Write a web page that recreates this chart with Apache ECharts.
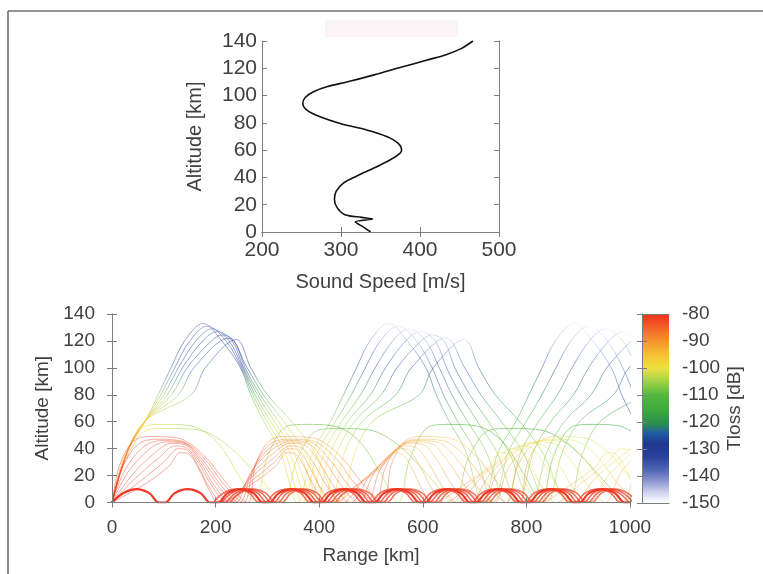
<!DOCTYPE html>
<html><head><meta charset="utf-8">
<script src="https://cdn.jsdelivr.net/npm/echarts@6/dist/echarts.min.js"></script>
<style>html,body{margin:0;padding:0;background:#fff}#c{width:763px;height:574px}</style>
</head><body><div id="c"></div><script>
// ---------- DATA ----------
// Sound speed profile: [speed m/s, altitude km]
const soundSpeed = [[337.6,0],[328,3.7],[318,7.5],[340,9.5],[326,10.7],[305,12.7],[295.5,17.5],[291.7,23.6],[293.8,29.7],[303,35.8],[320,41],[341,46.7],[362,52.8],[374.6,57.7],[376.7,60.1],[372.5,65],[357.8,70],[332.5,74.8],[298.9,79.6],[273.6,84.5],[256.8,89.4],[251.7,94.2],[254.7,98.6],[265.2,102.8],[282,106.4],[307.3,110],[341,115],[374.6,120.5],[408,125.9],[433,130],[452,134.4],[467,140]];
const speedTicks = [200,300,400,500];
const altTicks = [0,20,40,60,80,100,120,140];
const rangeTicks = [0,200,400,600,800,1000];
const tlossTicks = [-150,-140,-130,-120,-110,-100,-90,-80];

// Thermospheric rays: [range km, altitude km, Tloss dB]
const thermoRays = [
[[0,0,-80],[30,38,-88],[65,61,-96],[89,80,-106],[114,100,-124],[140,120,-132],[176,133,-138],[212,120,-134],[248,100,-128],[268,80,-115],[292,61,-104],[325,38,-98],[358,0,-96],[388,38,-100],[423,61,-106],[447,80,-116],[472,100,-130],[498,120,-140],[534,133,-148],[570,120,-143],[606,100,-134],[626,80,-122],[650,61,-112],[683,38,-106],[716,0,-104],[746,38,-107],[781,61,-112],[805,80,-122],[830,100,-134],[856,120,-143],[892,133,-149],[928,120,-145],[964,100,-138],[984,80,-128],[1008,61,-118]],
[[0,0,-80],[30,38,-88],[65,61,-96],[94,80,-106],[121,100,-124],[150,120,-132],[184,131,-138],[220,120,-134],[250,100,-128],[272,80,-115],[298,61,-104],[333,38,-98],[368,0,-96],[398,38,-100],[433,61,-106],[462,80,-116],[489,100,-130],[518,120,-140],[552,131,-148],[588,120,-143],[618,100,-134],[640,80,-122],[666,61,-112],[701,38,-106],[736,0,-104],[766,38,-107],[801,61,-112],[830,80,-122],[857,100,-134],[886,120,-143],[920,131,-149],[956,120,-145],[986,100,-138],[1008,80,-128]],
[[0,0,-80],[30,38,-88],[65,61,-96],[100,80,-106],[128,100,-124],[162,120,-132],[193,129,-138],[226,120,-134],[252,100,-128],[276,80,-115],[305,61,-104],[342,38,-98],[380,0,-96],[410,38,-100],[445,61,-106],[480,80,-116],[508,100,-130],[542,120,-140],[573,129,-148],[606,120,-143],[632,100,-134],[656,80,-122],[685,61,-112],[722,38,-106],[760,0,-104],[790,38,-107],[825,61,-112],[860,80,-122],[888,100,-134],[922,120,-143],[953,129,-149],[986,120,-145],[1012,100,-138]],
[[0,0,-80],[30,38,-88],[65,61,-96],[107,80,-106],[136,100,-124],[175,120,-132],[203,127,-138],[232,120,-134],[254,100,-128],[281,80,-115],[312,61,-104],[350,38,-98],[392,0,-96],[422,38,-100],[457,61,-106],[499,80,-116],[528,100,-130],[567,120,-140],[595,127,-148],[624,120,-143],[646,100,-134],[673,80,-122],[704,61,-112],[742,38,-106],[784,0,-104],[814,38,-107],[849,61,-112],[891,80,-122],[920,100,-134],[959,120,-143],[987,127,-149],[1016,120,-145]],
[[0,0,-80],[30,38,-88],[65,61,-96],[115,80,-106],[145,100,-124],[192,120,-132],[212,124.5,-136],[236,120,-134],[257,100,-128],[286,80,-115],[320,61,-104],[360,38,-98],[405,0,-96],[435,38,-100],[470,61,-106],[520,80,-116],[550,100,-130],[597,120,-140],[617,124.5,-146],[641,120,-143],[662,100,-134],[691,80,-122],[725,61,-112],[765,38,-106],[810,0,-104],[840,38,-107],[875,61,-112],[925,80,-122],[955,100,-134],[1002,120,-143]],
[[0,0,-80],[30,38,-88],[65,61,-96],[128,80,-106],[158,100,-124],[225,122,-134],[261,100,-128],[292,80,-115],[330,61,-104],[372,38,-98],[420,0,-96],[450,38,-100],[485,61,-106],[548,80,-116],[578,100,-130],[645,122,-146],[681,100,-134],[712,80,-122],[750,61,-112],[792,38,-106],[840,0,-104],[870,38,-107],[905,61,-112],[968,80,-122],[998,100,-134],[1065,122,-149]],
[[0,0,-80],[30,38,-88],[65,61,-96],[153,80,-106],[180,100,-124],[240,121,-134],[268,100,-128],[300,80,-115],[345,61,-104],[390,38,-98],[440,0,-96],[470,38,-100],[505,61,-106],[593,80,-116],[620,100,-130],[680,121,-146],[708,100,-134],[740,80,-122],[785,61,-112],[830,38,-106],[880,0,-104],[910,38,-107],[945,61,-112],[1033,80,-122]]
];

// Rays turning near 55-58 km: [range, altitude, Tloss]
const upperStratRays = [
[[0,0,-80],[25,35,-90],[64,57,-99],[100,58,-103],[150,57,-105],[200,46,-104],[245,20,-101],[276,0,-100],[301,35,-103],[340,57,-107],[376,58,-109],[426,57,-110],[476,46,-108],[521,20,-105],[552,0,-104],[577,35,-106],[616,57,-109],[652,58,-111],[702,57,-112],[752,46,-111],[797,20,-108],[828,0,-107],[853,35,-109],[892,57,-112],[928,58,-114],[978,57,-115],[1028,46,-114]],
[[0,0,-80],[28,33,-90],[70,54,-99],[110,55,-103],[165,54,-105],[225,42,-104],[290,16,-101],[330,0,-100],[358,33,-103],[400,54,-107],[440,55,-109],[495,54,-110],[555,42,-108],[620,16,-105],[660,0,-104],[688,33,-106],[730,54,-109],[770,55,-111],[825,54,-112],[885,42,-111],[950,16,-108],[990,0,-107],[1018,33,-109]]
];

// Stratospheric rays: [range, altitude, Tloss]
const stratRays = [
[[0,0,-80],[15,28,-80],[40,45,-81],[70,49,-82],[125,48,-82],[175,36,-82],[222,14,-81],[262,0,-80],[277,28,-82],[302,45,-85],[332,49,-88],[387,48,-90],[437,36,-88],[484,14,-84],[524,0,-82],[539,28,-85],[564,45,-89],[594,49,-92],[649,48,-94],[699,36,-92],[746,14,-87],[786,0,-84],[801,28,-90],[826,45,-95],[856,49,-99],[911,48,-102],[961,36,-100],[1008,14,-94]],
[[0,0,-80],[20,26,-80],[50,43,-81],[85,47,-82],[130,46,-82],[175,34,-82],[217,13,-81],[254,0,-80],[274,26,-82],[304,43,-85],[339,47,-88],[384,46,-90],[429,34,-88],[471,13,-84],[508,0,-82],[528,26,-85],[558,43,-89],[593,47,-92],[638,46,-94],[683,34,-92],[725,13,-87],[762,0,-84],[782,26,-90],[812,43,-95],[847,47,-99],[892,46,-102],[937,34,-100],[979,13,-94],[1016,0,-90]],
[[0,0,-80],[25,24,-80],[60,41,-81],[95,46,-82],[135,45,-82],[172,33,-82],[212,12,-81],[246,0,-80],[271,24,-82],[306,41,-85],[341,46,-88],[381,45,-90],[418,33,-88],[458,12,-84],[492,0,-82],[517,24,-85],[552,41,-89],[587,46,-92],[627,45,-94],[664,33,-92],[704,12,-87],[738,0,-84],[763,24,-90],[798,41,-95],[833,46,-99],[873,45,-102],[910,33,-100],[950,12,-94],[984,0,-90],[1009,24,-94]],
[[0,0,-80],[30,22,-80],[70,39,-81],[105,45,-82],[138,44,-82],[170,32,-82],[206,12,-81],[238,0,-80],[268,22,-82],[308,39,-85],[343,45,-88],[376,44,-90],[408,32,-88],[444,12,-84],[476,0,-82],[506,22,-85],[546,39,-89],[581,45,-92],[614,44,-94],[646,32,-92],[682,12,-87],[714,0,-84],[744,22,-90],[784,39,-95],[819,45,-99],[852,44,-102],[884,32,-100],[920,12,-94],[952,0,-90],[982,22,-94],[1022,39,-98]],
[[0,0,-80],[38,20,-80],[80,36,-81],[115,44,-82],[140,43,-82],[168,31,-82],[200,11,-81],[230,0,-80],[268,20,-82],[310,36,-85],[345,44,-88],[370,43,-90],[398,31,-88],[430,11,-84],[460,0,-82],[498,20,-85],[540,36,-89],[575,44,-92],[600,43,-94],[628,31,-92],[660,11,-87],[690,0,-84],[728,20,-90],[770,36,-95],[805,44,-99],[830,43,-102],[858,31,-100],[890,11,-94],[920,0,-90],[958,20,-94],[1000,36,-98]],
[[0,0,-80],[45,18,-80],[90,33,-81],[122,42,-82],[142,41,-82],[166,30,-82],[195,11,-81],[222,0,-80],[267,18,-82],[312,33,-85],[344,42,-88],[364,41,-90],[388,30,-88],[417,11,-84],[444,0,-82],[489,18,-85],[534,33,-89],[566,42,-92],[586,41,-94],[610,30,-92],[639,11,-87],[666,0,-84],[711,18,-90],[756,33,-95],[788,42,-99],[808,41,-102],[832,30,-100],[861,11,-94],[888,0,-90],[933,18,-94],[978,33,-98],[1010,42,-100]],
[[0,0,-80],[55,16,-80],[100,30,-81],[128,40,-82],[145,39,-82],[165,28,-82],[190,10,-81],[214,0,-80],[269,16,-82],[314,30,-85],[342,40,-88],[359,39,-90],[379,28,-88],[404,10,-84],[428,0,-82],[483,16,-85],[528,30,-89],[556,40,-92],[573,39,-94],[593,28,-92],[618,10,-87],[642,0,-84],[697,16,-90],[742,30,-95],[770,40,-99],[787,39,-102],[807,28,-100],[832,10,-94],[856,0,-90],[911,16,-94],[956,30,-98],[984,40,-100],[1001,39,-102]],
[[0,0,-80],[65,14,-80],[110,27,-81],[132,37,-82],[148,36,-82],[166,26,-82],[188,9,-81],[206,0,-80],[271,14,-82],[316,27,-85],[338,37,-88],[354,36,-90],[372,26,-88],[394,9,-84],[412,0,-82],[477,14,-85],[522,27,-89],[544,37,-92],[560,36,-94],[578,26,-92],[600,9,-87],[618,0,-84],[683,14,-90],[728,27,-95],[750,37,-99],[766,36,-102],[784,26,-100],[806,9,-94],[824,0,-90],[889,14,-94],[934,27,-98],[956,37,-100],[972,36,-102],[990,26,-100],[1012,9,-96]]
];

// Tropospheric duct rays: [range, altitude]
const ductRays = [
[[0,0],[22,7],[47,10],[72,7],[91,0],[102,0],[121,7],[146,10],[171,7],[190,0],[204,0],[223,7],[248,10],[273,7],[292,0],[303,0],[322,7],[347,10],[372,7],[391,0],[404,0],[423,7],[448,10],[473,7],[492,0],[506,0],[525,7],[550,10],[575,7],[594,0],[604,0],[623,7],[648,10],[673,7],[692,0],[702,0],[721,7],[746,10],[771,7],[790,0],[804,0],[823,7],[848,10],[873,7],[892,0],[902,0],[921,7],[946,10],[971,7],[990,0],[1000,0]],
[[212,0],[231,7],[256,10],[281,7],[300,0],[311,0],[330,7],[355,10],[380,7],[399,0],[412,0],[431,7],[456,10],[481,7],[500,0],[514,0],[533,7],[558,10],[583,7],[602,0],[612,0],[631,7],[656,10],[681,7],[700,0],[710,0],[729,7],[754,10],[779,7],[798,0],[812,0],[831,7],[856,10],[881,7],[900,0],[910,0],[929,7],[954,10],[979,7],[998,0]],
[[220,0],[239,7],[264,10],[289,7],[308,0],[319,0],[338,7],[363,10],[388,7],[407,0],[420,0],[439,7],[464,10],[489,7],[508,0],[522,0],[541,7],[566,10],[591,7],[610,0],[620,0],[639,7],[664,10],[689,7],[708,0],[718,0],[737,7],[762,10],[787,7],[806,0],[820,0],[839,7],[864,10],[889,7],[908,0],[918,0],[937,7],[962,10],[987,7],[1006,0]],
[[196,0],[215,7],[240,10],[265,7],[284,0],[295,0],[314,7],[339,10],[364,7],[383,0],[396,0],[415,7],[440,10],[465,7],[484,0],[498,0],[517,7],[542,10],[567,7],[586,0],[596,0],[615,7],[640,10],[665,7],[684,0],[694,0],[713,7],[738,10],[763,7],[782,0],[796,0],[815,7],[840,10],[865,7],[884,0],[894,0],[913,7],[938,10],[963,7],[982,0],[1000,0]],
[[228,0],[247,7],[272,10],[297,7],[316,0],[327,0],[346,7],[371,10],[396,7],[415,0],[428,0],[447,7],[472,10],[497,7],[516,0],[530,0],[549,7],[574,10],[599,7],[618,0],[628,0],[647,7],[672,10],[697,7],[716,0],[726,0],[745,7],[770,10],[795,7],[814,0],[828,0],[847,7],[872,10],[897,7],[916,0],[926,0],[945,7],[970,10],[995,7],[1014,0]]
];
const ductTloss = [-80,-80,-81,-81,-82];

// ---------- STYLE ----------
const FONT = 'Liberation Sans, Arial, Helvetica, sans-serif';
const TXT = '#404040';
const AX = '#7d7d7d';
const cmap = [
 [-150,[255,255,255]],[-146,[205,210,238]],[-142,[140,152,208]],[-138,[84,104,182]],
 [-133,[40,66,156]],[-128,[30,56,142]],[-124,[32,92,160]],[-121,[40,140,84]],
 [-116,[58,168,62]],[-110,[84,184,62]],[-105,[162,210,72]],[-100,[236,226,62]],
 [-95,[245,192,52]],[-90,[245,148,46]],[-85,[244,98,40]],[-80,[238,46,30]]
];
function tlossRGB(t){
  if (t <= cmap[0][0]) return cmap[0][1];
  for (let i=1;i<cmap.length;i++){
    if (t <= cmap[i][0]){
      const a=cmap[i-1], b=cmap[i], f=(t-a[0])/(b[0]-a[0]);
      return a[1].map((v,k)=>Math.round(v+(b[1][k]-v)*f));
    }
  }
  return cmap[cmap.length-1][1];
}
function rgba(t, a){ const c=tlossRGB(t); return 'rgba('+c[0]+','+c[1]+','+c[2]+','+a+')'; }
function rayGradient(pts, alpha){
  const r0=pts[0][0], r1=pts[pts.length-1][0];
  return {type:'linear', x:0, y:0, x2:1, y2:0,
    colorStops: pts.map(p=>({offset:(p[0]-r0)/(r1-r0), color:rgba(p[2], alpha)}))};
}

const series = [];
series.push({type:'line', xAxisIndex:0, yAxisIndex:0, data:soundSpeed, smooth:0.3, showSymbol:false,
  lineStyle:{color:'#111', width:1.6}, silent:true, z:3});

function addRays(rays, alpha, width){
  rays.forEach(r=>{
    series.push({type:'line', xAxisIndex:2, yAxisIndex:2, data:r.map(p=>[p[0],p[1]]), smooth:0.35,
      showSymbol:false, silent:true, clip:true, lineStyle:{width:width, color:rayGradient(r, alpha)}, z:2});
  });
}
addRays(thermoRays, 0.5, 1);
addRays(upperStratRays, 0.55, 1);
addRays(stratRays, 0.42, 1);
ductRays.forEach((r,i)=>{
  series.push({type:'line', xAxisIndex:2, yAxisIndex:2, data:r, smooth:0.4, showSymbol:false, silent:true, clip:true,
    lineStyle:{width: i===0?2.2:1.5, color: rgba(ductTloss[i], i===0?0.95:0.75)}, z:3});
});

// colour bar
const cbStops = cmap.map(c=>({offset:(-80-c[0])/70, color:'rgb('+c[1].join(',')+')'})).reverse();
series.push({type:'custom', xAxisIndex:4, yAxisIndex:4, silent:true, z:1,
  data:[[0, tlossTicks[0], tlossTicks[tlossTicks.length-1]]],
  encode:{x:0, y:1},
  renderItem:(params, api)=>{
    const p0=api.coord([0, api.value(2)]), p1=api.coord([1, api.value(1)]);
    return {type:'rect', shape:{x:p0[0], y:p0[1], width:p1[0]-p0[0], height:p1[1]-p0[1]},
      style:{fill:new echarts.graphic.LinearGradient(0,0,0,1,cbStops)}};
  }});

const plain = v => String(v);
function valAxis(o){
  return Object.assign({type:'value', z:5,
    axisLine:{show:true, lineStyle:{color:AX, width:1}},
    axisTick:{show:true, inside:true, length:5, lineStyle:{color:AX}},
    splitLine:{show:false},
    axisLabel:{show:true, color:TXT, fontFamily:FONT, formatter:plain},
    nameTextStyle:{color:TXT, fontFamily:FONT}
  }, o);
}
const noLab = {show:false};

const option = {
  animation:false,
  backgroundColor:'#fff',
  textStyle:{fontFamily:FONT},
  grid:[
    {left:262, top:41, width:237, height:191, outerBoundsMode:'none', containLabel:false},
    {left:112, top:314, width:518, height:188.5, outerBoundsMode:'none', containLabel:false},
    {left:642, top:314, width:27, height:189, outerBoundsMode:'none', containLabel:false}
  ],
  xAxis:[
    valAxis({gridIndex:0, min:speedTicks[0], max:speedTicks[speedTicks.length-1], interval:speedTicks[1]-speedTicks[0], position:'bottom',
      axisLabel:{color:TXT, fontFamily:FONT, fontSize:21, margin:8, formatter:plain},
      name:'Sound Speed [m/s]', nameLocation:'middle', nameGap:40, nameTextStyle:{color:TXT, fontFamily:FONT, fontSize:20}}),
    valAxis({gridIndex:0, min:speedTicks[0], max:speedTicks[speedTicks.length-1], interval:speedTicks[1]-speedTicks[0], position:'top', axisLabel:noLab}),
    valAxis({gridIndex:1, min:rangeTicks[0], max:rangeTicks[rangeTicks.length-1], interval:rangeTicks[1]-rangeTicks[0], position:'bottom',
      axisLabel:{color:TXT, fontFamily:FONT, fontSize:19, margin:16, formatter:plain},
      name:'Range [km]', nameLocation:'middle', nameGap:44, nameTextStyle:{color:TXT, fontFamily:FONT, fontSize:19}}),
    valAxis({gridIndex:1, min:rangeTicks[0], max:rangeTicks[rangeTicks.length-1], interval:rangeTicks[1]-rangeTicks[0], position:'top', axisLabel:noLab}),
    valAxis({gridIndex:2, min:0, max:1, position:'bottom', axisLabel:noLab, axisTick:{show:false}}),
    valAxis({gridIndex:2, min:0, max:1, position:'top', axisLabel:noLab, axisTick:{show:false}})
  ],
  yAxis:[
    valAxis({gridIndex:0, min:altTicks[0], max:altTicks[altTicks.length-1], interval:altTicks[1]-altTicks[0], position:'left',
      axisLabel:{color:TXT, fontFamily:FONT, fontSize:21, margin:5, formatter:plain},
      name:'Altitude [km]', nameLocation:'middle', nameGap:57, nameRotate:90, nameTextStyle:{color:TXT, fontFamily:FONT, fontSize:20}}),
    valAxis({gridIndex:0, min:altTicks[0], max:altTicks[altTicks.length-1], interval:altTicks[1]-altTicks[0], position:'right', axisLabel:noLab}),
    valAxis({gridIndex:1, min:altTicks[0], max:altTicks[altTicks.length-1], interval:altTicks[1]-altTicks[0], position:'left',
      axisLabel:{color:TXT, fontFamily:FONT, fontSize:19, margin:17, formatter:plain},
      name:'Altitude [km]', nameLocation:'middle', nameGap:58, nameRotate:90, nameTextStyle:{color:TXT, fontFamily:FONT, fontSize:19}}),
    valAxis({gridIndex:1, min:altTicks[0], max:altTicks[altTicks.length-1], interval:altTicks[1]-altTicks[0], position:'right', axisLabel:noLab}),
    valAxis({gridIndex:2, min:tlossTicks[0], max:tlossTicks[tlossTicks.length-1], interval:tlossTicks[1]-tlossTicks[0], position:'right',
      axisLabel:{color:TXT, fontFamily:FONT, fontSize:19, margin:13, formatter:plain},
      name:'Tloss [dB]', nameLocation:'middle', nameGap:56, nameRotate:90, nameTextStyle:{color:TXT, fontFamily:FONT, fontSize:19}}),
    valAxis({gridIndex:2, min:tlossTicks[0], max:tlossTicks[tlossTicks.length-1], interval:tlossTicks[1]-tlossTicks[0], position:'left', axisLabel:noLab})
  ],
  graphic:[
    {type:'rect', left:325, top:20, shape:{width:133, height:17}, style:{fill:'#fcf3f6'}, silent:true},
    {type:'line', shape:{x1:8, y1:11, x2:763, y2:11}, style:{stroke:'#6c7074', lineWidth:1.6}, silent:true},
    {type:'line', shape:{x1:8, y1:11, x2:8, y2:574}, style:{stroke:'#6c7074', lineWidth:1.6}, silent:true}
  ],
  series:series
};
const chart = echarts.init(document.getElementById('c'), null, {renderer:'canvas'});
chart.setOption(option);
</script></body></html>
